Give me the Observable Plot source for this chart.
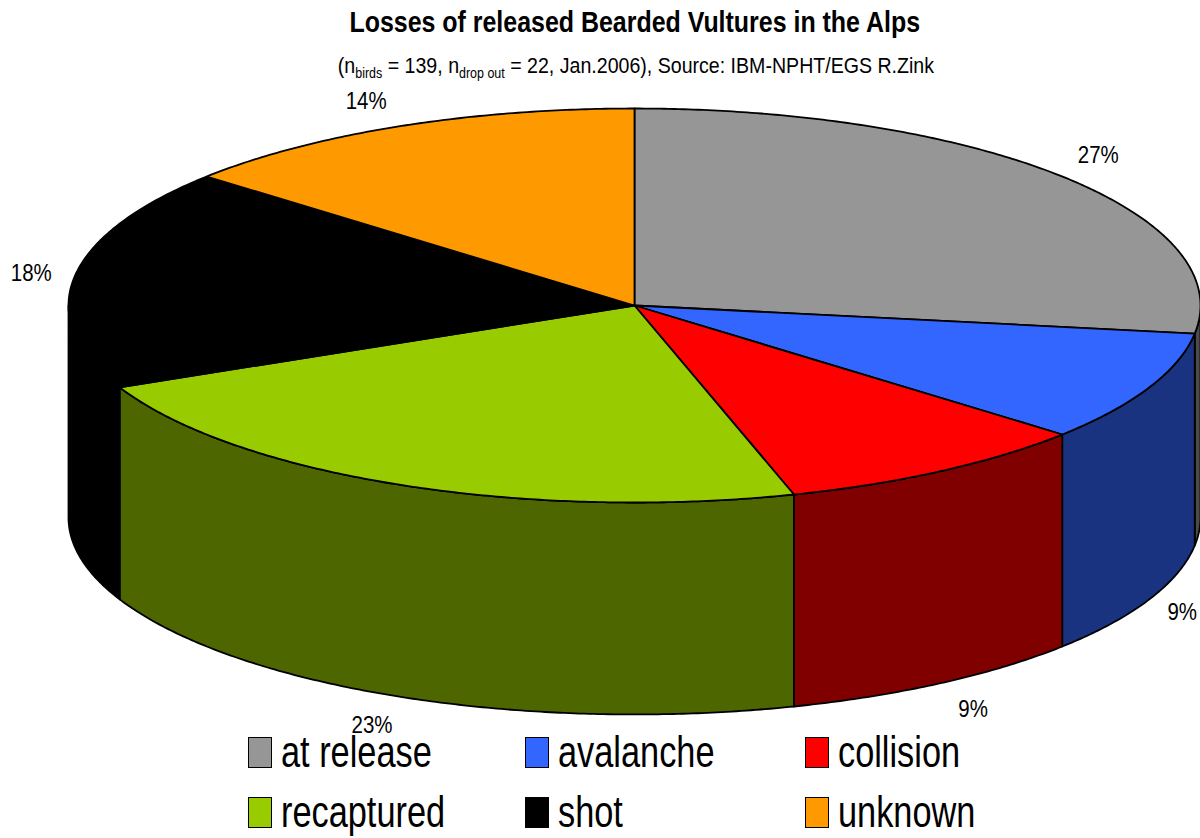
<!DOCTYPE html>
<html><head><meta charset="utf-8">
<script src="https://cdn.jsdelivr.net/npm/d3@7"></script>
<script src="https://cdn.jsdelivr.net/npm/@observablehq/plot@0.6"></script>
<style>
html,body{margin:0;padding:0;background:#fff;color:#000;font-family:"Liberation Sans",sans-serif;overflow:hidden}
#page{width:1200px;height:838px;overflow:hidden;position:relative}
#head{height:85px;text-align:center;box-sizing:border-box}
#title{font-weight:700;font-size:29px;line-height:30px;padding-top:7px;padding-left:70px;white-space:nowrap}
#title span{display:inline-block;transform:scaleX(.86)}
#sub{font-size:22px;line-height:26px;padding-top:16px;padding-left:72px;white-space:nowrap}
#sub>span{display:inline-block;transform:scaleX(.89)}
#sub sub{font-size:14px;line-height:0;vertical-align:-5px}
#chart svg{display:block}
#legend{display:grid;grid-template-columns:277px 280px 300px;grid-template-rows:44px 44px;row-gap:16px;padding-left:248px;margin-top:-5px;font-size:44px;line-height:44px;position:relative}
.item{display:flex;align-items:center;white-space:nowrap}
.sw{display:inline-block;box-sizing:border-box;width:24px;height:31px;border:1.5px solid #000;margin-right:9px;flex:none}
.lab{display:inline-block;transform:scaleX(.78);transform-origin:left center}
</style></head>
<body><div id="page">
<div id="head"><div id="title"><span>Losses of released Bearded Vultures in the Alps</span></div>
<div id="sub"><span>(n<sub>birds</sub> = 139, n<sub>drop out</sub> = 22, Jan.2006), Source: IBM-NPHT/EGS R.Zink</span></div></div>
<div id="chart"></div>
<div id="legend"></div>
</div>
<script>
const categories = ["at release","avalanche","collision","recaptured","shot","unknown"];
const counts = [6,2,2,5,4,3];
const percentLabels = ["27%","9%","9%","23%","18%","14%"];
const topColors = ["#969696","#3366ff","#ff0000","#99cc00","#000000","#ff9900"];
const sideColors = ["#4b4b4b","#1a3380","#800000","#4d6600","#000000","#804d00"];
const depth = 1.076;

const total = d3.sum(counts);
const arcs = []; let acc = 0;
counts.forEach((c,i)=>{arcs.push({i,a0:acc/total*360,a1:(acc+c)/total*360});acc+=c;});
const rad = d=>d*Math.PI/180;
const px = a=>Math.sin(rad(a)), py = a=>Math.cos(rad(a));
function sweep(a0,a1){const n=Math.max(2,Math.ceil((a1-a0)/0.5));return d3.range(n+1).map(k=>a0+(a1-a0)*k/n);}
const tops=[], walls=[];
arcs.forEach(s=>{
  const pts=[[0,0],...sweep(s.a0,s.a1).map(a=>[px(a),py(a)]),[0,0]];
  pts.forEach(p=>tops.push({id:"t"+s.i,x:p[0],y:p[1],color:topColors[s.i]}));
  const b0=Math.max(s.a0,90), b1=Math.min(s.a1,270);
  if(b1>b0){
    const sw=sweep(b0,b1);
    const poly=[...sw.map(a=>[px(a),py(a)]),...sw.slice().reverse().map(a=>[px(a),py(a)-depth])];
    poly.push(poly[0]);
    poly.forEach(p=>walls.push({id:"w"+s.i,x:p[0],y:p[1],color:sideColors[s.i]}));
  }
});
const labels=arcs.map(s=>{
  const m=(s.a0+s.a1)/2, c=py(m), upperLeft=m>270;
  const fx=1.05+0.08*c*c+(upperLeft?0.025:0);
  return {x:px(m)*fx,y:c*(upperLeft?1.14:1.16)-(c<0?depth:0),t:percentLabels[s.i]};
});
const plot=Plot.plot({
  width:1200,height:650,margin:0,
  x:{domain:[-1,1],range:[68,1200],axis:null},
  y:{domain:[1,-1],range:[23,417],axis:null},
  color:{type:"identity"},
  style:{background:"transparent",overflow:"visible"},
  marks:[
    Plot.line(walls,{x:"x",y:"y",z:"id",fill:"color",stroke:"#000",strokeWidth:1.8,strokeLinejoin:"round"}),
    Plot.line(tops,{x:"x",y:"y",z:"id",fill:"color",stroke:"#000",strokeWidth:1.8,strokeLinejoin:"round"}),
    Plot.text(labels,{x:"x",y:"y",text:"t",fontSize:23,fill:"#000",fontFamily:'"Liberation Sans",sans-serif'})
  ]
});
d3.select(plot).selectAll("text").each(function(){
  const tr=this.getAttribute("transform")||"";
  this.setAttribute("transform",tr+" scale(.89,1)");
});
document.getElementById("chart").append(plot);
const legend=document.getElementById("legend");
categories.forEach((c,i)=>{
  const d=document.createElement("div");d.className="item";
  const s=document.createElement("span");s.className="sw";s.style.background=topColors[i];
  const t=document.createElement("span");t.className="lab";t.textContent=c;
  d.append(s,t);legend.append(d);
});
</script></body></html>
